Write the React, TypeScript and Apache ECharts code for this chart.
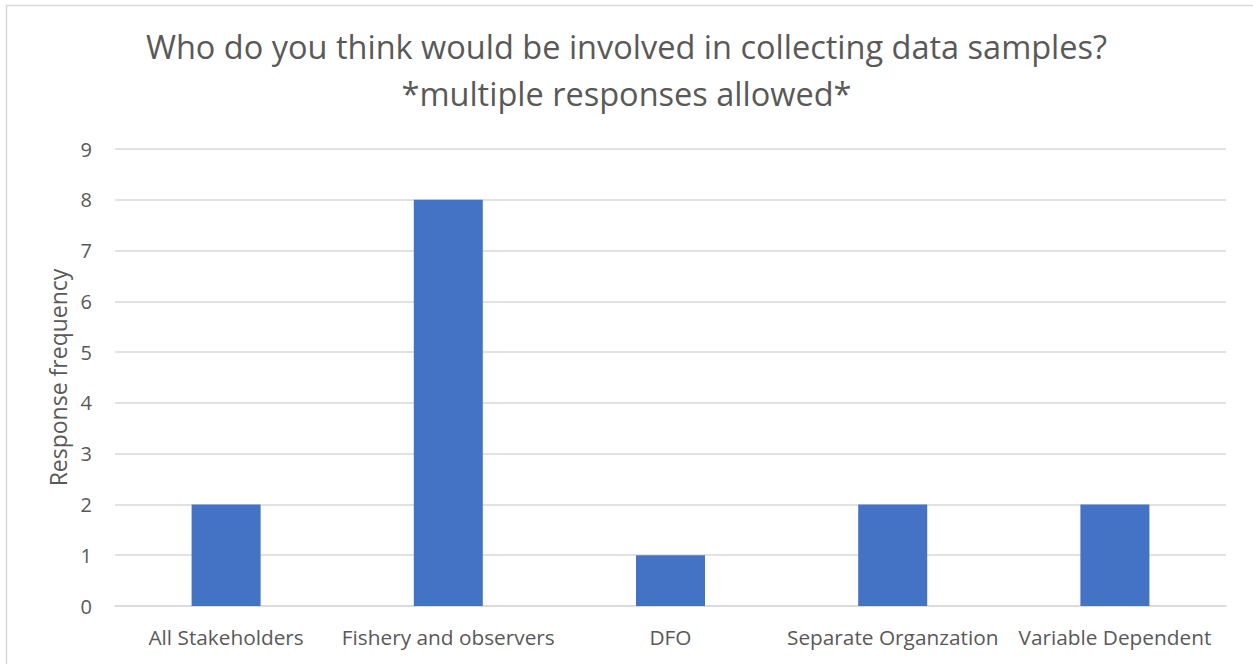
import React, { useEffect, useRef } from "react";
import * as echarts from "echarts";

const categories = [
  "All Stakeholders",
  "Fishery and observers",
  "DFO",
  "Separate Organzation",
  "Variable Dependent",
];
const responses = [2, 8, 1, 2, 2];
const titleLines = [
  "Who do you think would be involved in collecting data samples?",
  "*multiple responses allowed*",
];
const yAxisTitle = "Response frequency";

const FONT = "'Open Sans', 'Noto Sans', sans-serif";
const TEXT = "#595959";

export default function App() {
  const ref = useRef<HTMLDivElement>(null);

  useEffect(() => {
    if (!ref.current) return;
    const chart = echarts.init(ref.current, null, { renderer: "svg" });
    chart.setOption({
      animation: false,
      backgroundColor: "#ffffff",
      title: {
        text: titleLines.join("\n"),
        left: "center",
        top: 18,
        textStyle: {
          fontFamily: FONT,
          fontSize: 32.5,
          fontWeight: "normal",
          color: TEXT,
          lineHeight: 47,
        },
      },
      grid: { left: 115, right: 27, top: 149, bottom: 58, containLabel: false },
      xAxis: {
        type: "category",
        data: categories,
        axisLine: { show: true, lineStyle: { color: "#d9d9d9", width: 1.5 } },
        axisTick: { show: false },
        axisLabel: {
          fontFamily: FONT,
          fontSize: 20.8,
          color: TEXT,
          margin: 20,
          interval: 0,
        },
      },
      yAxis: {
        type: "value",
        min: 0,
        max: 9,
        interval: 1,
        name: yAxisTitle,
        nameLocation: "middle",
        nameGap: 46,
        nameTextStyle: { fontFamily: FONT, fontSize: 23, color: TEXT },
        axisLine: { show: false },
        axisTick: { show: false },
        axisLabel: { fontFamily: FONT, fontSize: 20, color: TEXT, margin: 23 },
        splitLine: { lineStyle: { color: "#d9d9d9", width: 1.5 } },
      },
      series: [
        {
          type: "bar",
          data: responses,
          barWidth: 69,
          itemStyle: { color: "#4472c4" },
        },
      ],
      graphic: [
        {
          type: "rect",
          shape: { x: 6.5, y: 5.5, width: 1260, height: 680 },
          style: { fill: "none", stroke: "#d9d9d9", lineWidth: 1.5 },
          silent: true,
        },
      ],
    });
    return () => chart.dispose();
  }, []);

  return (
    <div
      ref={ref}
      style={{ position: "absolute", left: 0, top: 0, width: 1253, height: 664 }}
    />
  );
}
